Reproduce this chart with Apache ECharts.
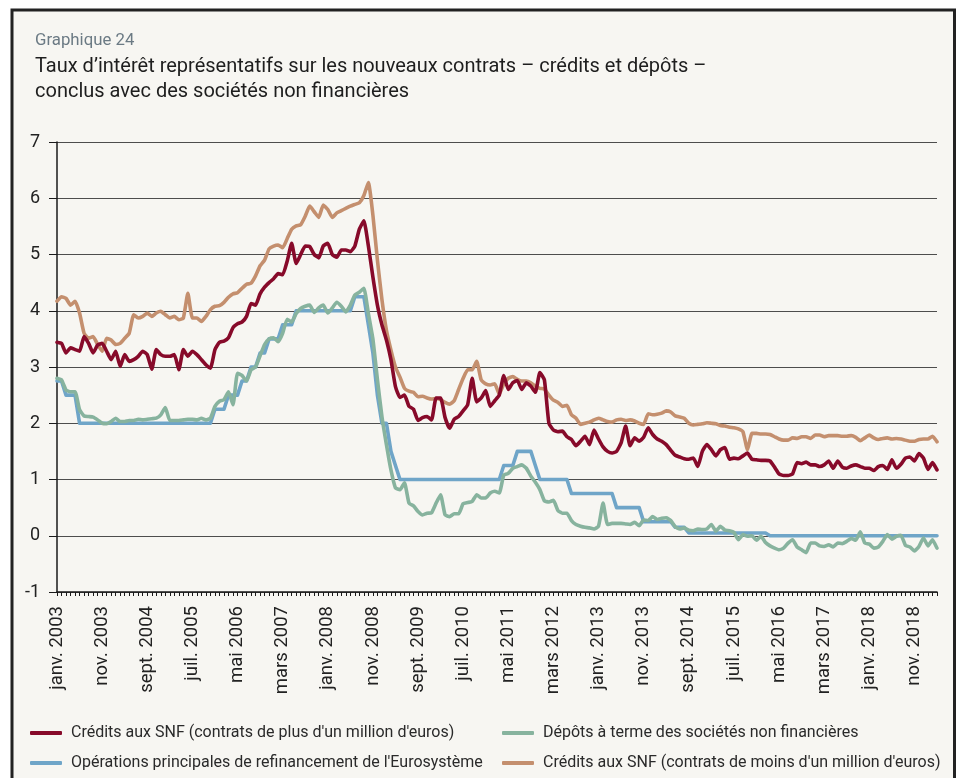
<!DOCTYPE html>
<html>
<head>
<meta charset="utf-8">
<script src="https://cdn.jsdelivr.net/npm/echarts@6/dist/echarts.min.js"></script>
<style>
  html, body { margin: 0; padding: 0; background: #ffffff; }
  #chart { width: 962px; height: 778px; }
</style>
</head>
<body>
<div id="chart"></div>
<script>
// month labels, janv. 2003 -> avr. 2019
const MONTHS = ["janv.", "févr.", "mars", "avr.", "mai", "juin", "juil.", "août", "sept.", "oct.", "nov.", "déc."];
const FIRST_YEAR = 2003;
const N_MONTHS = 196;

// Crédits aux SNF (contrats de plus d'un million d'euros)
const creditsPlus = [
  3.44, 3.42, 3.25, 3.34, 3.31, 3.28, 3.54, 3.42, 3.25, 3.39, 3.42, 3.28, // 2003
  3.13, 3.28, 3.01, 3.22, 3.10, 3.13, 3.19, 3.28, 3.22, 2.96, 3.31, 3.22, // 2004
  3.19, 3.19, 3.22, 2.95, 3.31, 3.19, 3.28, 3.22, 3.13, 3.04, 2.98, 3.31, // 2005
  3.44, 3.46, 3.52, 3.70, 3.77, 3.80, 3.90, 4.13, 4.10, 4.30, 4.42, 4.50, // 2006
  4.57, 4.66, 4.64, 4.88, 5.20, 4.84, 5.00, 5.15, 5.14, 5.00, 4.94, 5.15, // 2007
  5.20, 5.00, 4.95, 5.08, 5.08, 5.05, 5.15, 5.45, 5.60, 5.15, 4.60, 4.10, // 2008
  3.75, 3.48, 3.13, 2.65, 2.46, 2.50, 2.30, 2.25, 2.05, 2.10, 2.12, 2.06, // 2009
  2.45, 2.45, 2.10, 1.91, 2.07, 2.12, 2.22, 2.33, 2.80, 2.38, 2.45, 2.58, // 2010
  2.30, 2.40, 2.50, 2.85, 2.60, 2.72, 2.76, 2.60, 2.72, 2.66, 2.55, 2.90, // 2011
  2.77, 2.00, 1.88, 1.85, 1.86, 1.76, 1.71, 1.60, 1.68, 1.77, 1.62, 1.88, // 2012
  1.72, 1.58, 1.50, 1.47, 1.50, 1.65, 1.95, 1.60, 1.74, 1.68, 1.75, 1.92, // 2013
  1.80, 1.72, 1.68, 1.62, 1.52, 1.43, 1.40, 1.37, 1.36, 1.38, 1.23, 1.50, // 2014
  1.62, 1.53, 1.42, 1.53, 1.57, 1.36, 1.38, 1.37, 1.42, 1.47, 1.36, 1.35, // 2015
  1.34, 1.34, 1.33, 1.22, 1.10, 1.07, 1.07, 1.10, 1.30, 1.28, 1.31, 1.26, // 2016
  1.26, 1.23, 1.26, 1.33, 1.20, 1.33, 1.22, 1.20, 1.24, 1.26, 1.23, 1.20, // 2017
  1.20, 1.16, 1.23, 1.25, 1.18, 1.35, 1.20, 1.27, 1.38, 1.40, 1.33, 1.46, // 2018
  1.38, 1.18, 1.30, 1.17                                                  // 2019
];

// Dépôts à terme des sociétés non financières
const depotsTerme = [
  2.80, 2.77, 2.59, 2.56, 2.56, 2.24, 2.13, 2.12, 2.11, 2.06, 2.00, 1.99, // 2003
  2.03, 2.09, 2.03, 2.03, 2.05, 2.05, 2.07, 2.06, 2.07, 2.08, 2.09, 2.15, // 2004
  2.28, 2.05, 2.05, 2.05, 2.06, 2.07, 2.07, 2.06, 2.09, 2.06, 2.09, 2.30, // 2005
  2.39, 2.42, 2.56, 2.33, 2.89, 2.85, 2.75, 2.95, 3.00, 3.20, 3.40, 3.50, // 2006
  3.52, 3.45, 3.60, 3.85, 3.80, 3.95, 4.04, 4.08, 4.10, 3.97, 4.05, 4.10, // 2007
  3.96, 4.05, 4.15, 4.08, 3.98, 4.10, 4.28, 4.33, 4.40, 3.95, 3.50, 2.78, // 2008
  2.12, 1.62, 1.17, 0.85, 0.82, 0.94, 0.58, 0.53, 0.43, 0.37, 0.40, 0.41, // 2009
  0.58, 0.73, 0.37, 0.34, 0.39, 0.39, 0.57, 0.59, 0.61, 0.73, 0.67, 0.67, // 2010
  0.76, 0.79, 0.76, 1.08, 1.11, 1.20, 1.23, 1.26, 1.20, 1.06, 0.95, 0.82, // 2011
  0.62, 0.60, 0.63, 0.45, 0.40, 0.40, 0.27, 0.20, 0.17, 0.15, 0.14, 0.12, // 2012
  0.17, 0.58, 0.20, 0.22, 0.22, 0.22, 0.21, 0.20, 0.24, 0.18, 0.28, 0.27, // 2013
  0.34, 0.29, 0.31, 0.32, 0.27, 0.16, 0.12, 0.14, 0.10, 0.09, 0.12, 0.11, // 2014
  0.12, 0.20, 0.08, 0.17, 0.10, 0.09, 0.06, -0.07, 0.02, -0.01, 0.00, -0.08, // 2015
  -0.01, -0.12, -0.18, -0.22, -0.25, -0.22, -0.13, -0.07, -0.20, -0.25, -0.30, -0.13, // 2016
  -0.13, -0.18, -0.19, -0.16, -0.20, -0.13, -0.14, -0.10, -0.05, -0.08, 0.07, -0.13, // 2017
  -0.15, -0.22, -0.20, -0.10, 0.02, -0.06, -0.01, 0.01, -0.17, -0.20, -0.27, -0.19, // 2018
  -0.04, -0.18, -0.07, -0.22                                              // 2019
];

// Opérations principales de refinancement de l'Eurosystème
const refiEuro = [
  2.75, 2.75, 2.50, 2.50, 2.50, 2.00, 2.00, 2.00, 2.00, 2.00, 2.00, 2.00, // 2003
  2.00, 2.00, 2.00, 2.00, 2.00, 2.00, 2.00, 2.00, 2.00, 2.00, 2.00, 2.00, // 2004
  2.00, 2.00, 2.00, 2.00, 2.00, 2.00, 2.00, 2.00, 2.00, 2.00, 2.00, 2.25, // 2005
  2.25, 2.25, 2.50, 2.50, 2.50, 2.75, 2.75, 3.00, 3.00, 3.25, 3.25, 3.50, // 2006
  3.50, 3.50, 3.75, 3.75, 3.75, 4.00, 4.00, 4.00, 4.00, 4.00, 4.00, 4.00, // 2007
  4.00, 4.00, 4.00, 4.00, 4.00, 4.00, 4.25, 4.25, 4.25, 3.75, 3.25, 2.50, // 2008
  2.00, 2.00, 1.50, 1.25, 1.00, 1.00, 1.00, 1.00, 1.00, 1.00, 1.00, 1.00, // 2009
  1.00, 1.00, 1.00, 1.00, 1.00, 1.00, 1.00, 1.00, 1.00, 1.00, 1.00, 1.00, // 2010
  1.00, 1.00, 1.00, 1.25, 1.25, 1.25, 1.50, 1.50, 1.50, 1.50, 1.25, 1.00, // 2011
  1.00, 1.00, 1.00, 1.00, 1.00, 1.00, 0.75, 0.75, 0.75, 0.75, 0.75, 0.75, // 2012
  0.75, 0.75, 0.75, 0.75, 0.50, 0.50, 0.50, 0.50, 0.50, 0.50, 0.25, 0.25, // 2013
  0.25, 0.25, 0.25, 0.25, 0.25, 0.15, 0.15, 0.15, 0.05, 0.05, 0.05, 0.05, // 2014
  0.05, 0.05, 0.05, 0.05, 0.05, 0.05, 0.05, 0.05, 0.05, 0.05, 0.05, 0.05, // 2015
  0.05, 0.05, 0.00, 0.00, 0.00, 0.00, 0.00, 0.00, 0.00, 0.00, 0.00, 0.00, // 2016
  0.00, 0.00, 0.00, 0.00, 0.00, 0.00, 0.00, 0.00, 0.00, 0.00, 0.00, 0.00, // 2017
  0.00, 0.00, 0.00, 0.00, 0.00, 0.00, 0.00, 0.00, 0.00, 0.00, 0.00, 0.00, // 2018
  0.00, 0.00, 0.00, 0.00                                                  // 2019
];

// Crédits aux SNF (contrats de moins d'un million d'euros)
const creditsMoins = [
  4.17, 4.25, 4.22, 4.10, 4.17, 3.96, 3.60, 3.51, 3.54, 3.40, 3.28, 3.51, // 2003
  3.48, 3.40, 3.42, 3.51, 3.60, 3.93, 3.87, 3.90, 3.96, 3.90, 3.96, 3.99, // 2004
  3.93, 3.87, 3.90, 3.84, 3.87, 4.31, 3.87, 3.87, 3.81, 3.90, 4.02, 4.08, // 2005
  4.09, 4.15, 4.24, 4.30, 4.32, 4.40, 4.47, 4.49, 4.62, 4.80, 4.90, 5.10, // 2006
  5.15, 5.17, 5.12, 5.28, 5.45, 5.51, 5.53, 5.68, 5.86, 5.76, 5.66, 5.88, // 2007
  5.80, 5.66, 5.74, 5.78, 5.82, 5.86, 5.89, 5.92, 6.05, 6.28, 5.70, 4.90, // 2008
  4.20, 3.65, 3.30, 3.00, 2.82, 2.62, 2.57, 2.55, 2.47, 2.48, 2.45, 2.43, // 2009
  2.44, 2.42, 2.37, 2.34, 2.40, 2.60, 2.80, 2.95, 2.95, 3.10, 2.77, 2.70, // 2010
  2.68, 2.70, 2.52, 2.70, 2.80, 2.83, 2.78, 2.75, 2.75, 2.72, 2.66, 2.62, // 2011
  2.61, 2.50, 2.41, 2.37, 2.30, 2.32, 2.15, 2.09, 1.98, 2.00, 2.02, 2.06, // 2012
  2.09, 2.06, 2.03, 2.02, 2.06, 2.07, 2.05, 2.06, 2.04, 2.00, 1.98, 2.17, // 2013
  2.15, 2.16, 2.18, 2.22, 2.20, 2.13, 2.11, 2.09, 2.00, 1.97, 1.98, 1.99, // 2014
  2.01, 2.00, 1.99, 1.96, 1.95, 1.93, 1.92, 1.90, 1.85, 1.53, 1.82, 1.82, // 2015
  1.81, 1.81, 1.80, 1.76, 1.72, 1.70, 1.70, 1.74, 1.73, 1.76, 1.76, 1.73, // 2016
  1.79, 1.79, 1.76, 1.78, 1.78, 1.78, 1.77, 1.77, 1.78, 1.75, 1.69, 1.74, // 2017
  1.79, 1.74, 1.71, 1.73, 1.74, 1.72, 1.73, 1.72, 1.70, 1.68, 1.68, 1.71, // 2018
  1.72, 1.72, 1.77, 1.67                                                  // 2019
];

const NAMES = {
  plus: "Crédits aux SNF (contrats de plus d'un million d'euros)",
  depots: "Dépôts à terme des sociétés non financières",
  refi: "Opérations principales de refinancement de l'Eurosystème",
  moins: "Crédits aux SNF (contrats de moins d'un million d'euros)",
};

const COLORS = { plus: "#870a2a", depots: "#87b39e", refi: "#6fa5c8", moins: "#c48f6e" };
const FONT = "Roboto";

const categories = [];
for (let i = 0; i < N_MONTHS; i++) {
  categories.push(MONTHS[i % 12] + " " + (FIRST_YEAR + Math.floor(i / 12)));
}

const chart = echarts.init(document.getElementById("chart"), null, { renderer: "canvas" });

function line(key, data, z) {
  return {
    name: NAMES[key],
    type: "line",
    data,
    z,
    symbol: "none",
    smooth: key === "refi" ? false : 0.15,
    color: COLORS[key],
    lineStyle: { width: 3.6, color: COLORS[key], cap: "round", join: "round" },
    emphasis: { disabled: true },
  };
}

function legendAt(key, left, top) {
  return {
    data: [NAMES[key]],
    left,
    top,
    icon: "roundRect",
    itemWidth: 32,
    itemHeight: 4,
    selectedMode: false,
    textStyle: { fontFamily: FONT, fontSize: 16, color: "#2a2a2a", padding: [0, 0, 0, 4] },
  };
}

chart.setOption({
  animation: false,
  backgroundColor: "#ffffff",
  textStyle: { fontFamily: FONT },
  graphic: [
    {
      type: "rect",
      shape: { x: 12, y: 10, width: 942.5, height: 800 },
      style: { fill: "#f7f6f2", stroke: "#222222", lineWidth: 3 },
      z: -10,
      silent: true,
    },
  ],
  title: [
    {
      text: "Graphique 24",
      left: 30,
      top: 27,
      textStyle: { fontFamily: FONT, fontSize: 16.8, fontWeight: "normal", color: "#6b7a84" },
    },
    {
      text: "Taux d’intérêt représentatifs sur les nouveaux contrats – crédits et dépôts –\nconclus avec des sociétés non financières",
      left: 30,
      top: 49,
      textStyle: { fontFamily: FONT, fontSize: 20, fontWeight: "normal", color: "#1e1e1e", lineHeight: 25 },
    },
  ],
  legend: [
    legendAt("plus", 25, 720),
    legendAt("refi", 25, 750),
    legendAt("depots", 497, 720),
    legendAt("moins", 497, 750),
  ],
  grid: { left: 57, right: 25, top: 142, bottom: 186, containLabel: false },
  xAxis: {
    type: "category",
    data: categories,
    boundaryGap: false,
    axisLine: { onZero: false, lineStyle: { color: "#1a1a1a", width: 1.5 } },
    axisTick: { show: true, interval: 0, length: 4, lineStyle: { color: "#1a1a1a", width: 1 } },
    axisLabel: { interval: 9, rotate: 90, margin: 14, fontFamily: FONT, fontSize: 18.5, color: "#222222" },
    splitLine: { show: false },
  },
  yAxis: {
    type: "value",
    min: -1,
    max: 7,
    interval: 1,
    axisLine: { show: true, lineStyle: { color: "#1a1a1a", width: 1.5 } },
    axisTick: { show: true, length: 8, lineStyle: { color: "#1a1a1a", width: 1 } },
    axisLabel: { margin: 17, fontFamily: FONT, fontSize: 18, color: "#222222" },
    splitLine: { show: true, lineStyle: { color: "#4d4d4d", width: 1 } },
  },
  series: [
    line("refi", refiEuro, 2),
    line("depots", depotsTerme, 3),
    line("moins", creditsMoins, 4),
    line("plus", creditsPlus, 5),
  ],
});
</script>
</body>
</html>
